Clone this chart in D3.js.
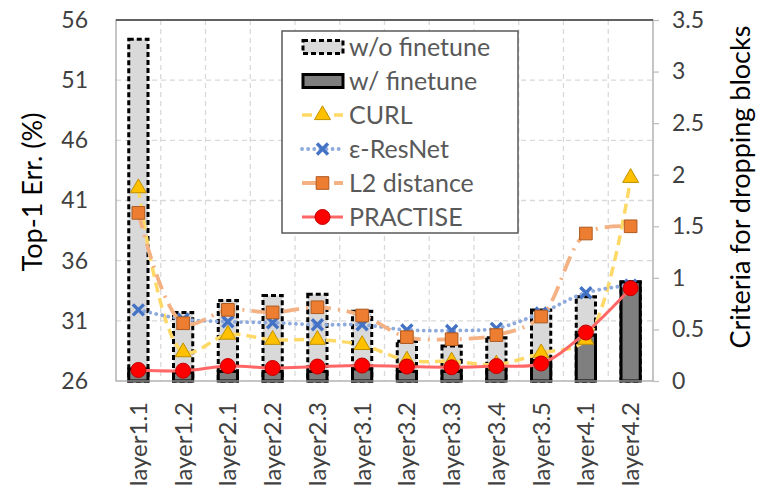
<!DOCTYPE html>
<html>
<head>
<meta charset="utf-8">
<script src="https://cdn.jsdelivr.net/npm/d3@7"></script>
<style>
    body { margin: 0; background: #fff; }
    text { font-family: Lato, "Liberation Sans", sans-serif; }
</style>
</head>
<body>
<div id="chart"></div>
<script>
// data
const categories = ["layer1.1", "layer1.2", "layer2.1", "layer2.2", "layer2.3", "layer3.1",
    "layer3.2", "layer3.3", "layer3.4", "layer3.5", "layer4.1", "layer4.2"];

// Top-1 error (%) bars, left axis
const woFinetune = [54.4, 31.7, 32.7, 33.1, 33.2, 31.8, 29.3, 28.9, 29.6, 31.9, 33.0, 34.2];
const wFinetune = [27.0, 26.7, 26.8, 26.8, 26.8, 27.0, 26.8, 26.8, 27.0, 27.7, 29.8, 34.25];

// criteria lines, right axis
const curl = [1.87, 0.28, 0.45, 0.40, 0.40, 0.35, 0.20, 0.19, 0.16, 0.27, 0.40, 1.97];
const eResNet = [0.69, 0.60, 0.575, 0.565, 0.545, 0.545, 0.495, 0.49, 0.51, 0.66, 0.855, 0.93];
const l2Distance = [1.63, 0.56, 0.69, 0.665, 0.715, 0.635, 0.425, 0.405, 0.445, 0.625, 1.43, 1.50];
const practise = [0.107, 0.10, 0.145, 0.126, 0.14, 0.15, 0.14, 0.133, 0.145, 0.17, 0.47, 0.90];

const leftTicks = [26, 31, 36, 41, 46, 51, 56];
const rightTicks = [0, 0.5, 1, 1.5, 2, 2.5, 3, 3.5];

const width = 758, height = 494;
const margin = {top: 20, right: 105, bottom: 113, left: 116};
const innerW = width - margin.left - margin.right;
const innerH = height - margin.top - margin.bottom;

const svg = d3.select("#chart").append("svg")
    .attr("width", width)
    .attr("height", height);

const g = svg.append("g")
    .attr("transform", `translate(${margin.left}, ${margin.top})`);

// scales
const x = d3.scaleBand().domain(categories).range([0, innerW]).padding(0);
const yL = d3.scaleLinear().domain([26, 56]).range([innerH, 0]);
const yR = d3.scaleLinear().domain([0, 3.5]).range([innerH, 0]);
const barW = x.bandwidth() * 0.43;

// gridlines
g.append("g").selectAll("line.hgrid")
    .data(leftTicks.slice(1, -1))
    .join("line")
    .attr("x1", 0).attr("x2", innerW)
    .attr("y1", d => yL(d)).attr("y2", d => yL(d))
    .attr("stroke", "#d9d9d9").attr("stroke-width", 1.3)
    .attr("stroke-dasharray", "5,4");

g.append("g").selectAll("line.vgrid")
    .data(categories.slice(1))
    .join("line")
    .attr("x1", d => x(d)).attr("x2", d => x(d))
    .attr("y1", 0).attr("y2", innerH)
    .attr("stroke", "#d9d9d9").attr("stroke-width", 1.3)
    .attr("stroke-dasharray", "5,4");

// bars
g.selectAll(".bar-wo")
    .data(woFinetune)
    .join("rect")
    .attr("class", "bar-wo")
    .attr("x", (d, i) => x(categories[i]) + (x.bandwidth() - barW) / 2)
    .attr("width", barW)
    .attr("y", d => yL(d))
    .attr("height", d => innerH - yL(d))
    .attr("fill", "#d9d9d9")
    .attr("stroke", "#000")
    .attr("stroke-width", 3)
    .attr("stroke-dasharray", "5,3");

g.selectAll(".bar-w")
    .data(wFinetune)
    .join("rect")
    .attr("class", "bar-w")
    .attr("x", (d, i) => x(categories[i]) + (x.bandwidth() - barW) / 2)
    .attr("width", barW)
    .attr("y", d => yL(d))
    .attr("height", d => innerH - yL(d))
    .attr("fill", "#7f7f7f")
    .attr("stroke", "#000")
    .attr("stroke-width", 3);

// plot border
g.append("rect")
    .attr("width", innerW).attr("height", innerH)
    .attr("fill", "none")
    .attr("stroke", "#a6a6a6").attr("stroke-width", 1.3);
g.append("line")
    .attr("x1", 0).attr("x2", innerW).attr("y1", 0).attr("y2", 0)
    .attr("stroke", "#404040").attr("stroke-width", 1.3);

// marker paths
const triPath = d3.symbol(d3.symbolTriangle, 110)();
const sqPath = d3.symbol(d3.symbolSquare, 160)();
const xPath = "M-5.5,-5.5L5.5,5.5M-5.5,5.5L5.5,-5.5";

const series = [
    {name: "CURL", values: curl, line: "#ffd966", dash: "10,6", lw: 3.5,
        marker: triPath, fill: "#ffc000", stroke: "#bf9000", mw: 1},
    {name: "\u03b5-ResNet", values: eResNet, line: "#8faadc", dash: "0.1,6", lw: 3.8, cap: "round",
        marker: xPath, fill: "none", stroke: "#4472c4", mw: 3.4},
    {name: "L2 distance", values: l2Distance, line: "#f4b183", dash: "16,7,2,7", lw: 3.8,
        marker: sqPath, fill: "#ed7d31", stroke: "#ae5a21", mw: 1},
    {name: "PRACTISE", values: practise, line: "#ff6666", dash: null, lw: 3,
        marker: "circle", fill: "#ff0000", stroke: "#c00000", mw: 1}
];

const lineGen = d3.line()
    .x((d, i) => x(categories[i]) + x.bandwidth() / 2)
    .y(d => yR(d))
    .curve(d3.curveCatmullRom.alpha(0.5));

function drawMarker(sel, s) {
    if (s.marker === "circle") {
        sel.append("circle").attr("r", 7.5)
            .attr("fill", s.fill).attr("stroke", s.stroke).attr("stroke-width", s.mw);
    } else {
        sel.append("path").attr("d", s.marker)
            .attr("fill", s.fill).attr("stroke", s.stroke).attr("stroke-width", s.mw);
    }
}

series.forEach(s => {
    const sg = g.append("g");
    sg.append("path")
        .datum(s.values)
        .attr("d", lineGen)
        .attr("fill", "none")
        .attr("stroke", s.line)
        .attr("stroke-width", s.lw)
        .attr("stroke-linecap", s.cap || "butt")
        .attr("stroke-dasharray", s.dash);
    sg.selectAll("g.m")
        .data(s.values)
        .join("g")
        .attr("class", "m")
        .attr("transform", (d, i) => `translate(${x(categories[i]) + x.bandwidth() / 2}, ${yR(d)})`)
        .each(function() { drawMarker(d3.select(this), s); });
});

// axes
const axisLeft = g.append("g")
    .call(d3.axisLeft(yL).tickValues(leftTicks).tickSize(0).tickPadding(28));
const axisRight = g.append("g")
    .attr("transform", `translate(${innerW}, 0)`)
    .call(d3.axisRight(yR).tickValues(rightTicks).tickFormat(d3.format("")).tickSize(6).tickPadding(13));
[axisLeft, axisRight].forEach(a => {
    a.select(".domain").remove();
    a.selectAll("line").attr("stroke", "#bfbfbf").attr("stroke-width", 1.3);
    a.selectAll("text").attr("font-size", 23).attr("fill", "#404040")
        .attr("font-family", "Lato, sans-serif");
});

const axisBottom = g.append("g")
    .attr("transform", `translate(0, ${innerH})`)
    .call(d3.axisBottom(x).tickSize(0).tickPadding(0));
axisBottom.select(".domain").remove();
axisBottom.selectAll("text")
    .attr("font-size", 24).attr("fill", "#404040")
    .attr("font-family", "Lato, sans-serif")
    .attr("text-anchor", "end")
    .attr("dy", "0.35em")
    .attr("transform", "translate(0, 21) rotate(-90)")
    .attr("x", 0).attr("y", 0);

// axis titles
svg.append("text")
    .attr("transform", `translate(42, 192) rotate(-90)`)
    .attr("text-anchor", "middle")
    .attr("font-size", 27).attr("fill", "#000")
    .text("Top-1 Err. (%)");

svg.append("text")
    .attr("transform", `translate(750, 187) rotate(-90)`)
    .attr("text-anchor", "middle")
    .attr("font-size", 27).attr("fill", "#000")
    .text("Criteria for dropping blocks");

// legend
const legend = svg.append("g").attr("transform", "translate(282, 31)");
legend.append("rect")
    .attr("width", 236).attr("height", 202)
    .attr("fill", "#fff").attr("stroke", "#595959").attr("stroke-width", 1.5);

const legendItems = [
    {name: "w/o finetune", type: "bar", fill: "#d9d9d9", dash: "5,3"},
    {name: "w/ finetune", type: "bar", fill: "#7f7f7f", dash: null}
].concat(series.map(s => Object.assign({type: "line"}, s)));

legendItems.forEach((it, i) => {
    const row = legend.append("g").attr("transform", `translate(20, ${16 + i * 34})`);
    if (it.type === "bar") {
        row.append("rect")
            .attr("x", 1).attr("y", -6.5).attr("width", 40).attr("height", 13)
            .attr("fill", it.fill).attr("stroke", "#000").attr("stroke-width", 3)
            .attr("stroke-dasharray", it.dash);
    } else {
        row.append("line")
            .attr("x1", 0).attr("x2", 41)
            .attr("stroke", it.line).attr("stroke-width", it.lw)
            .attr("stroke-linecap", it.cap || "butt")
            .attr("stroke-dasharray", it.dash);
        const m = row.append("g").attr("transform", "translate(20.5, 0)");
        drawMarker(m, it);
    }
    row.append("text")
        .attr("x", 47).attr("dy", "0.35em")
        .attr("font-size", 25).attr("fill", "#595959")
        .text(it.name);
});
</script>
</body>
</html>
